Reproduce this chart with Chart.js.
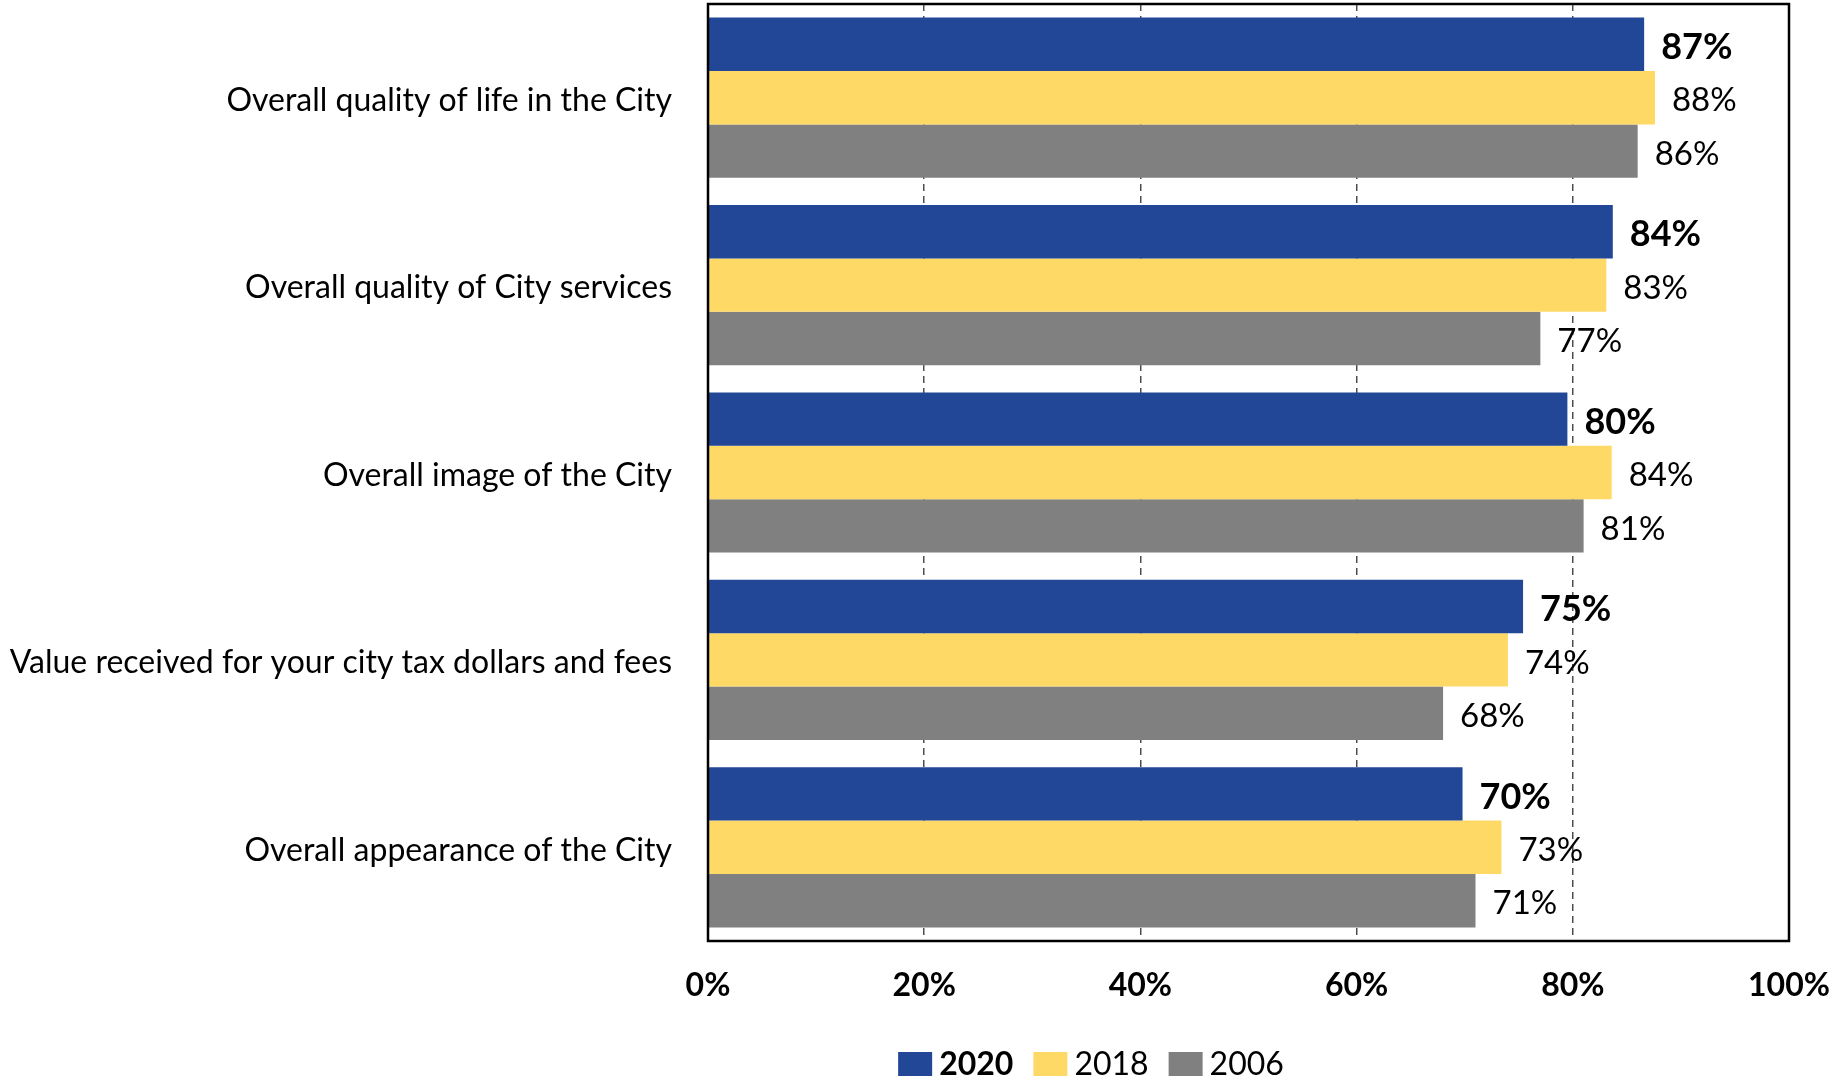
<!DOCTYPE html>
<html>
<head>
<meta charset="utf-8">
<script src="https://cdn.jsdelivr.net/npm/chart.js@4"></script>
<style>
  html, body { margin: 0; padding: 0; background: #fff; }
  #wrap { width: 1829px; height: 1079px; }
</style>
</head>
<body>
<div id="wrap"><canvas id="chart" width="1829" height="1079"></canvas></div>
<script>
// chart data
const categories = [
  "Overall quality of life in the City",
  "Overall quality of City services",
  "Overall image of the City",
  "Value received for your city tax dollars and fees",
  "Overall appearance of the City",
];
const years = ["2020", "2018", "2006"];
// bar lengths (labels show them rounded)
const values2020 = [86.6, 83.7, 79.5, 75.4, 69.8];
const values2018 = [87.6, 83.1, 83.6, 74.0, 73.4];
const values2006 = [86.0, 77.0, 81.0, 68.0, 71.0];
const xTicks = [0, 20, 40, 60, 80, 100];

const colors = ["#214796", "#FFD966", "#808080"];
const FONT = "Lato, 'Open Sans', sans-serif";

// value labels next to each bar, 2020 in bold
const barLabels = {
  id: "barLabels",
  afterDatasetsDraw(chart) {
    const ctx = chart.ctx;
    ctx.save();
    ctx.fillStyle = "#000";
    ctx.textBaseline = "middle";
    ctx.textAlign = "left";
    chart.data.datasets.forEach((ds, i) => {
      const meta = chart.getDatasetMeta(i);
      ctx.font = (i === 0 ? "bold 36px " : "33px ") + FONT;
      meta.data.forEach((bar, j) => {
        ctx.fillText(Math.round(ds.data[j]) + "%", bar.x + 17, bar.y + 3);
      });
    });
    ctx.restore();
  },
};

// black frame round the plot area
const frame = {
  id: "frame",
  afterDraw(chart) {
    const a = chart.chartArea;
    const ctx = chart.ctx;
    ctx.save();
    ctx.strokeStyle = "#000";
    ctx.lineWidth = 2.5;
    ctx.strokeRect(a.left, a.top, a.right - a.left, a.bottom - a.top);
    ctx.restore();
  },
};

// legend at the bottom, first entry bold
const bottomLegend = {
  id: "bottomLegend",
  afterDraw(chart) {
    const ctx = chart.ctx;
    ctx.save();
    const boxW = 34, boxH = 24, gap = 7, itemGap = 20;
    const fonts = chart.data.datasets.map((d, i) => (i === 0 ? "bold " : "") + "32px " + FONT);
    let total = 0;
    const widths = chart.data.datasets.map((d, i) => {
      ctx.font = fonts[i];
      const w = ctx.measureText(d.label).width;
      total += boxW + gap + w;
      return w;
    });
    total += itemGap * (widths.length - 1);
    let x = 1091 - total / 2;
    const y = 1064;
    chart.data.datasets.forEach((d, i) => {
      ctx.fillStyle = d.backgroundColor;
      ctx.fillRect(x, y - boxH / 2, boxW, boxH);
      x += boxW + gap;
      ctx.font = fonts[i];
      ctx.fillStyle = "#000";
      ctx.textBaseline = "middle";
      ctx.fillText(d.label, x, y + 1);
      x += widths[i] + itemGap;
    });
    ctx.restore();
  },
};

const series = [values2020, values2018, values2006];

new Chart(document.getElementById("chart"), {
  type: "bar",
  data: {
    labels: categories,
    datasets: years.map((y, i) => ({
      label: y,
      data: series[i],
      backgroundColor: colors[i],
      borderWidth: 0,
      categoryPercentage: 0.855,
      barPercentage: 1.0,
    })),
  },
  options: {
    indexAxis: "y",
    responsive: false,
    animation: false,
    layout: { autoPadding: false, padding: { top: 4, right: 40, left: 0, bottom: 58 } },
    plugins: {
      legend: { display: false },
      tooltip: { enabled: false },
    },
    scales: {
      x: {
        min: 0,
        max: 100,
        afterBuildTicks: (s) => { s.ticks = xTicks.map((v) => ({ value: v })); },
        afterFit: (s) => {
          s.height = 80;
          s.paddingLeft = 0;
          s.paddingRight = 0;
        },
        grid: { color: "#4d4d4d", lineWidth: 1.5, drawTicks: false },
        border: { display: false, dash: [7, 5] },
        ticks: {
          padding: 25,
          color: "#000",
          font: { family: FONT, size: 32, weight: "bold" },
          callback: (v) => v + "%",
        },
      },
      y: {
        afterFit: (s) => {
          s.width = 708;
          s.paddingTop = 0;
          s.paddingBottom = 0;
        },
        grid: { display: false, drawTicks: false },
        border: { display: false },
        ticks: {
          padding: 36,
          color: "#000",
          font: { family: FONT, size: 32 },
          // nudge labels a touch lower, as in the original
          labelOffset: 3,
        },
      },
    },
  },
  plugins: [barLabels, frame, bottomLegend],
});
</script>
</body>
</html>
